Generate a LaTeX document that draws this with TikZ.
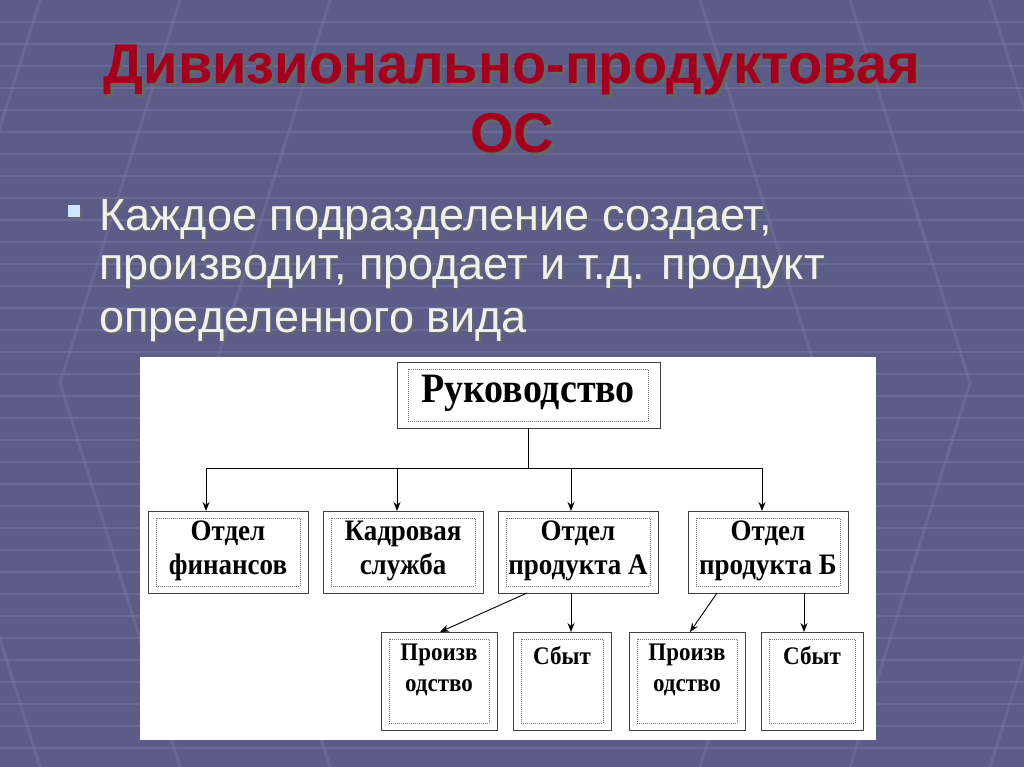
\documentclass[tikz,border=0pt]{standalone}
\usepackage{fontspec}
\setmainfont{Liberation Serif}
\newfontfamily\sansf{Liberation Sans}
\usetikzlibrary{arrows.meta}
\definecolor{bgc}{HTML}{5B5D88}
\definecolor{gridc}{HTML}{7375A0}
\definecolor{titc}{HTML}{A3001E}
\definecolor{bul}{HTML}{CFE6FF}
\tikzset{
 box/.style={draw=black!75,line width=1pt,fill=white},
 inner/.style={draw=black!55,line width=0.4pt,dash pattern=on 1pt off 1pt},
 lbl/.style={font=\bfseries\fontsize{27}{31}\selectfont,align=center,yscale=1.1},
 arr/.style={-{Stealth[length=9pt,width=7pt]},line width=0.9pt},
 ln/.style={line width=0.8pt}
}
\begin{document}
\begin{tikzpicture}[x=1pt,y=-1pt]
\fill[bgc] (0,0) rectangle (1024,767);
\useasboundingbox (0,0) rectangle (1024,767);
\foreach \y in {22,44,...,767} \draw[gridc,line width=1.2pt,opacity=0.6] (0,\y) -- (1024,\y);
\foreach \x/\d in {40/-1,180/-1,330/-1,700/1,850/1,990/1}
 {\draw[gridc,line width=3pt,opacity=0.5] (\x,0) -- (\x+\d*120,383) -- (\x,767);}
% title
\node[text=black!60,font=\sansf\bfseries\fontsize{56}{60}\selectfont] at (515,73) {Дивизионально-продуктовая};
\node[text=titc,font=\sansf\bfseries\fontsize{56}{60}\selectfont] (t1) at (512,70) {Дивизионально-продуктовая};
\node[text=black!60,font=\sansf\bfseries\fontsize{56}{60}\selectfont] at (515,136) {ОС};
\node[text=titc,font=\sansf\bfseries\fontsize{56}{60}\selectfont] (t2) at (512,133) {ОС};
\fill[black!60] (70,207) rectangle (82,219);
\fill[bul] (68,205) rectangle (80,217);
\foreach \t/\y in {{Каждое подразделение создает,}/220,{производит, продает и т.д. продукт}/272,{определенного вида}/325}{
\node[anchor=west,text=black!60,font=\sansf\fontsize{45}{50}\selectfont] at (96+2,\y+2) {\t};
\node[anchor=west,text=white!94!black,font=\sansf\fontsize{45}{50}\selectfont] at (96,\y) {\t};}
% panel
\fill[white] (140,357) rectangle (876,740);
% boxes
\draw[box] (397,362) rectangle (660,428); \draw[inner] (408,369) rectangle (648,421);
\node[font=\bfseries\fontsize{38}{40}\selectfont,yscale=1.1] (ruk) at (528,393) {Руководство};
\coordinate (rb) at (528,428);
\foreach \n/\a/\b/\t in {fin/148/308/{Отдел\\финансов},kad/323/483/{Кадровая\\служба},pa/498/658/{Отдел\\продукта А},pb/688/848/{Отдел\\продукта Б}}{
 \draw[box] (\a,511) rectangle (\b,593); \draw[inner] (\a+8,518) rectangle (\b-8,586);
 \node[lbl] (\n) at ({(\a+\b)/2},551) {\t};}
\foreach \n/\a/\b in {pra/381/497,sba/513/611,prb/629/745,sbb/761/863}{
 \draw[box] (\a,632) rectangle (\b,730); \draw[inner] (\a+8,639) rectangle (\b-8,723);}
\node[lbl,font=\bfseries\fontsize{23}{28}\selectfont] at (439,670) {Произв\\одство};
\node[lbl,font=\bfseries\fontsize{23}{28}\selectfont] at (562,656) {Сбыт};
\node[lbl,font=\bfseries\fontsize{23}{28}\selectfont] at (687,670) {Произв\\одство};
\node[lbl,font=\bfseries\fontsize{23}{28}\selectfont] at (812,656) {Сбыт};
\coordinate (hj) at (528,468);
\draw[ln] (rb) -- (hj);
\draw[ln] (206,468) -- (762,468);
\foreach \x in {206,397,571,762} \draw[arr] (\x,468) -- (\x,511);
\draw[arr] (527,593) -- (440,632);
\draw[arr] (571,593) -- (571,632);
\draw[arr] (717,593) -- (690,632);
\draw[arr] (804,593) -- (804,632);
\end{tikzpicture}
\end{document}
